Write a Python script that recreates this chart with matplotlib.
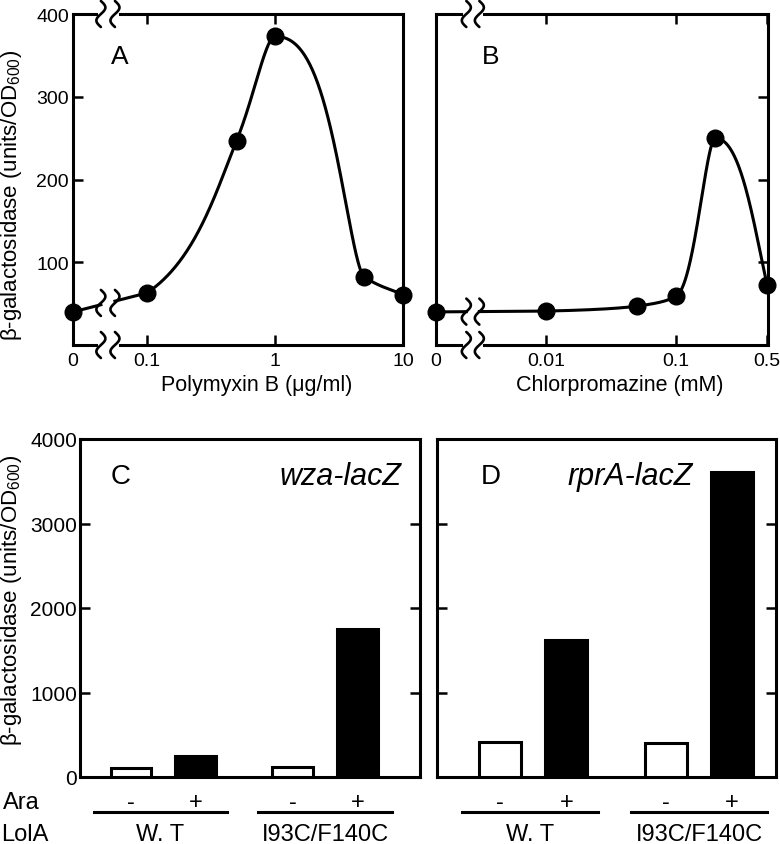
import numpy as np
import matplotlib
matplotlib.use('Agg')
import matplotlib.pyplot as plt
from matplotlib import transforms

plt.rcParams['font.family'] = ['Liberation Sans', 'DejaVu Sans']
plt.rcParams['mathtext.fontset'] = 'custom'
plt.rcParams['mathtext.rm'] = 'Liberation Sans'
plt.rcParams['mathtext.it'] = 'Liberation Sans:italic'

# --- data ---
polymyxin_conc = [0, 0.1, 0.5, 1, 5, 10]          # ug/ml
polymyxin_act = [40, 63, 247, 373, 82, 60]
polymyxin_ticks = ['0', '0.1', '1', '10']

chlorpro_conc = [0, 0.01, 0.05, 0.1, 0.2, 0.5]    # mM
chlorpro_act = [40, 41, 47, 59, 250, 72]
chlorpro_ticks = ['0', '0.01', '0.1', '0.5']

ara_labels = ['-', '+', '-', '+']
lola_groups = ['W. T', 'I93C/F140C']
wza_lacz = [103, 245, 118, 1752]
rpra_lacz = [410, 1626, 399, 3611]

ylab = u'\u03b2-galactosidase (units/OD$_{\\mathregular{600}}$)'
LW = 2.2


def pchip(x, y, xx):
    # monotone cubic (Fritsch-Carlson) through the measured points
    x = np.asarray(x, float); y = np.asarray(y, float)
    n = len(x); h = np.diff(x); d = np.diff(y) / h
    m = np.zeros(n)
    for i in range(1, n - 1):
        if d[i - 1] * d[i] > 0:
            w1 = 2 * h[i] + h[i - 1]; w2 = h[i] + 2 * h[i - 1]
            m[i] = (w1 + w2) / (w1 / d[i - 1] + w2 / d[i])
    m[0] = d[0]; m[-1] = d[-1]
    k = np.clip(np.searchsorted(x, xx) - 1, 0, n - 2)
    t = (xx - x[k]) / h[k]
    h00 = 2*t**3 - 3*t**2 + 1; h10 = t**3 - 2*t**2 + t
    h01 = -2*t**3 + 3*t**2; h11 = t**3 - t**2
    return h00*y[k] + h10*h[k]*m[k] + h01*y[k+1] + h11*h[k]*m[k+1]


def squiggle(ax, xc, yc, amp, hgt, trans):
    t = np.linspace(-0.5, 0.5, 40)
    ax.plot(xc + amp * np.sin(2 * np.pi * t), yc + t * hgt, color='black', lw=1.9,
            transform=trans, clip_on=False, zorder=7, solid_capstyle='round')


def line_panel(ax, conc, act, zero_pos, brk, xlim, ticklabels, ytick_side):
    u = [zero_pos] + list(np.log10(conc[1:]))
    ax.set_xlim(*xlim)
    ax.set_ylim(0, 400)
    # smooth curve through the non-zero concentrations
    uu = np.linspace(u[1], u[-1], 400)
    yy = pchip(conc[1:], act[1:], 10 ** uu)
    ax.plot(uu, yy, color='black', lw=LW, zorder=3)
    # broken segment between 0 and first concentration
    slope = (act[1] - act[0]) / (u[1] - u[0])
    yl = act[0] + slope * (brk[0] - u[0])
    yr = act[0] + slope * (brk[1] - u[0])
    ax.plot([u[0], brk[0]], [act[0], yl], color='black', lw=LW, zorder=3)
    ax.plot([brk[1], u[1]], [yr, act[1]], color='black', lw=LW, zorder=3)
    ax.plot(u, act, 'o', color='black', ms=12, zorder=4, clip_on=False)
    # break marks
    pxu = ax.bbox.width / (xlim[1] - xlim[0])
    amp = 4.5 / pxu
    bt = transforms.blended_transform_factory(ax.transData, ax.transAxes)
    hax = 26.0 / ax.bbox.height
    for ya in (0, 1):
        ax.plot(brk, [ya, ya], color='white', lw=5, transform=bt, clip_on=False, zorder=6)
        for xb in brk:
            squiggle(ax, xb, ya, amp, hax, bt)
    ymid = (yl + yr) / 2
    for xb in brk:
        squiggle(ax, xb, ymid, amp, 26.0 / ax.bbox.height * 400, ax.transData)
    ticks = [zero_pos] + [np.log10(float(s)) for s in ticklabels[1:]]
    ax.set_xticks(ticks)
    ax.set_xticklabels(ticklabels)
    ax.set_yticks([100, 200, 300, 400])
    ax.tick_params(direction='in', length=7, width=1.8, top=True, bottom=True,
                   labelsize=14, pad=5)
    if ytick_side == 'left':
        ax.tick_params(axis='y', left=True, right=False, labelleft=True, pad=3)
    else:
        ax.tick_params(axis='y', left=False, right=True, labelleft=False)
    for s in ax.spines.values():
        s.set_linewidth(LW)


def bar_panel(ax, vals, xlim, letter, letter_x, gene, gene_x, show_labels):
    pos = [0, 1, 2.5, 3.5]
    colors = ['white', 'black', 'white', 'black']
    ax.bar(pos, vals, width=0.63, color=colors, edgecolor='black', linewidth=LW, zorder=3)
    ax.set_xlim(*xlim)
    ax.set_ylim(0, 4000)
    ax.set_yticks([0, 1000, 2000, 3000, 4000])
    ax.tick_params(axis='x', bottom=False, labelbottom=False)
    ax.tick_params(axis='y', direction='in', length=7, width=1.8, left=True, right=True,
                   labelleft=show_labels, labelsize=15, pad=2)
    for s in ax.spines.values():
        s.set_linewidth(LW)
    ax.text(letter_x, 0.89, letter, transform=ax.transAxes,
            fontsize=20, ha='left', va='center')
    ax.text(gene_x, 0.89, gene, transform=ax.transAxes, fontsize=22, style='italic',
            ha='center', va='center')
    bt = transforms.blended_transform_factory(ax.transData, ax.transAxes)
    for p, s in zip(pos, ara_labels):
        ax.text(p, -0.074, s, transform=bt, ha='center', va='center', fontsize=17, clip_on=False)
    for c, g in zip([0.45, 3.0], lola_groups):
        ax.plot([c - 1.03, c + 1.03], [-0.104, -0.104], color='black', lw=2.2,
                transform=bt, clip_on=False)
        ax.text(c, -0.169, g, transform=bt, ha='center', va='center', fontsize=17, clip_on=False)


fig = plt.figure(figsize=(7.8, 8.45), dpi=100)
axA = fig.add_axes([73/780, 1 - 346/845, 330/780, 331/845])
axB = fig.add_axes([436/780, 1 - 346/845, 332/780, 331/845])
axC = fig.add_axes([80/780, 1 - 778/845, 340/780, 338/845])
axD = fig.add_axes([437/780, 1 - 778/845, 339/780, 338/845])

line_panel(axA, polymyxin_conc, polymyxin_act, -1.58, (-1.362, -1.252), (-1.58, 1.0),
           polymyxin_ticks, 'left')
line_panel(axB, chlorpro_conc, chlorpro_act, -2.845, (-2.612, -2.512), (-2.845, -0.295),
           chlorpro_ticks, 'right')

axA.text(0.115, 0.873, 'A', transform=axA.transAxes, fontsize=19, ha='left', va='center')
axB.text(0.138, 0.873, 'B', transform=axB.transAxes, fontsize=19, ha='left', va='center')
axA.text(0.558, -0.118, u'Polymyxin B (\u03bcg/ml)', transform=axA.transAxes,
         fontsize=15.5, ha='center', va='center')
axB.text(0.554, -0.118, 'Chlorpromazine (mM)', transform=axB.transAxes,
         fontsize=15.5, ha='center', va='center')

bar_panel(axC, wza_lacz, (-0.79, 4.47), 'C', 0.09, 'wza-lacZ', 0.765, True)
bar_panel(axD, rpra_lacz, (-0.95, 4.16), 'D', 0.13, 'rprA-lacZ', 0.569, False)

fig.text(12/780, 1 - 195/845, ylab, rotation=90, ha='center', va='center', fontsize=16)
fig.text(12/780, 1 - 600/845, ylab, rotation=90, ha='center', va='center', fontsize=16)
fig.text(3/780, 1 - 803/845, 'Ara', ha='left', va='center', fontsize=17)
fig.text(1/780, 1 - 835/845, 'LolA', ha='left', va='center', fontsize=17)

fig.savefig('out.png', dpi=100)
